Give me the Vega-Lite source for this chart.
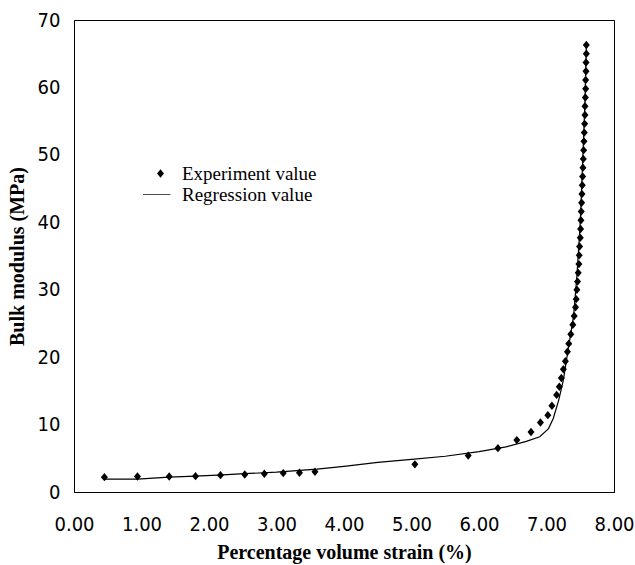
{
  "$schema": "https://vega.github.io/schema/vega-lite/v6.json",
  "width": 540,
  "height": 472,
  "autosize": {"type": "none"},
  "padding": {"left": 74, "top": 20, "right": 21, "bottom": 73},
  "background": "white",
  "config": {
    "view": {"stroke": "black", "strokeWidth": 1},
    "axis": {
      "grid": false,
      "ticks": false,
      "labelFlush": false,
      "labelOverlap": false,
      "domainColor": "black",
      "domainWidth": 1,
      "labelColor": "black",
      "labelFont": "DejaVu Sans Condensed",
      "labelFontSize": 20,
      "titleColor": "black",
      "titleFont": "Liberation Serif",
      "titleFontWeight": "bold",
      "titleFontSize": 20
    }
  },
  "datasets": {
    "experiment": [
      {"strain": 0.45, "modulus": 2.2, "series": "Experiment value"},
      {"strain": 0.94, "modulus": 2.3, "series": "Experiment value"},
      {"strain": 1.41, "modulus": 2.3, "series": "Experiment value"},
      {"strain": 1.80, "modulus": 2.35, "series": "Experiment value"},
      {"strain": 2.17, "modulus": 2.5, "series": "Experiment value"},
      {"strain": 2.53, "modulus": 2.6, "series": "Experiment value"},
      {"strain": 2.82, "modulus": 2.7, "series": "Experiment value"},
      {"strain": 3.10, "modulus": 2.8, "series": "Experiment value"},
      {"strain": 3.34, "modulus": 2.85, "series": "Experiment value"},
      {"strain": 3.57, "modulus": 3.0, "series": "Experiment value"},
      {"strain": 5.05, "modulus": 4.1, "series": "Experiment value"},
      {"strain": 5.84, "modulus": 5.4, "series": "Experiment value"},
      {"strain": 6.28, "modulus": 6.5, "series": "Experiment value"},
      {"strain": 6.56, "modulus": 7.7, "series": "Experiment value"},
      {"strain": 6.77, "modulus": 8.9, "series": "Experiment value"},
      {"strain": 6.91, "modulus": 10.3, "series": "Experiment value"},
      {"strain": 7.02, "modulus": 11.4, "series": "Experiment value"},
      {"strain": 7.08, "modulus": 12.8, "series": "Experiment value"},
      {"strain": 7.15, "modulus": 14.4, "series": "Experiment value"},
      {"strain": 7.19, "modulus": 15.6, "series": "Experiment value"},
      {"strain": 7.22, "modulus": 16.9, "series": "Experiment value"},
      {"strain": 7.25, "modulus": 18.2, "series": "Experiment value"},
      {"strain": 7.28, "modulus": 19.4, "series": "Experiment value"},
      {"strain": 7.31, "modulus": 20.8, "series": "Experiment value"},
      {"strain": 7.33, "modulus": 22.0, "series": "Experiment value"},
      {"strain": 7.36, "modulus": 23.4, "series": "Experiment value"},
      {"strain": 7.39, "modulus": 24.8, "series": "Experiment value"},
      {"strain": 7.41, "modulus": 26.1, "series": "Experiment value"},
      {"strain": 7.43, "modulus": 27.4, "series": "Experiment value"},
      {"strain": 7.44, "modulus": 28.6, "series": "Experiment value"},
      {"strain": 7.45, "modulus": 30.0, "series": "Experiment value"},
      {"strain": 7.46, "modulus": 31.2, "series": "Experiment value"},
      {"strain": 7.47, "modulus": 32.5, "series": "Experiment value"},
      {"strain": 7.48, "modulus": 33.8, "series": "Experiment value"},
      {"strain": 7.485, "modulus": 35.1, "series": "Experiment value"},
      {"strain": 7.49, "modulus": 36.4, "series": "Experiment value"},
      {"strain": 7.50, "modulus": 37.7, "series": "Experiment value"},
      {"strain": 7.505, "modulus": 39.0, "series": "Experiment value"},
      {"strain": 7.51, "modulus": 40.3, "series": "Experiment value"},
      {"strain": 7.515, "modulus": 41.6, "series": "Experiment value"},
      {"strain": 7.52, "modulus": 42.9, "series": "Experiment value"},
      {"strain": 7.525, "modulus": 44.2, "series": "Experiment value"},
      {"strain": 7.53, "modulus": 45.5, "series": "Experiment value"},
      {"strain": 7.535, "modulus": 46.8, "series": "Experiment value"},
      {"strain": 7.54, "modulus": 48.1, "series": "Experiment value"},
      {"strain": 7.545, "modulus": 49.4, "series": "Experiment value"},
      {"strain": 7.55, "modulus": 50.7, "series": "Experiment value"},
      {"strain": 7.555, "modulus": 52.0, "series": "Experiment value"},
      {"strain": 7.56, "modulus": 53.3, "series": "Experiment value"},
      {"strain": 7.565, "modulus": 54.6, "series": "Experiment value"},
      {"strain": 7.57, "modulus": 55.9, "series": "Experiment value"},
      {"strain": 7.57, "modulus": 57.2, "series": "Experiment value"},
      {"strain": 7.575, "modulus": 58.5, "series": "Experiment value"},
      {"strain": 7.58, "modulus": 59.8, "series": "Experiment value"},
      {"strain": 7.58, "modulus": 61.1, "series": "Experiment value"},
      {"strain": 7.585, "modulus": 62.4, "series": "Experiment value"},
      {"strain": 7.585, "modulus": 63.7, "series": "Experiment value"},
      {"strain": 7.59, "modulus": 65.0, "series": "Experiment value"},
      {"strain": 7.59, "modulus": 66.3, "series": "Experiment value"}
    ],
    "regression": [
      {"strain": 0.45, "modulus": 1.9},
      {"strain": 0.94, "modulus": 1.9},
      {"strain": 1.41, "modulus": 2.2},
      {"strain": 1.80, "modulus": 2.35},
      {"strain": 2.2, "modulus": 2.55},
      {"strain": 2.6, "modulus": 2.75},
      {"strain": 3.0, "modulus": 2.95},
      {"strain": 3.6, "modulus": 3.4},
      {"strain": 4.0, "modulus": 3.8},
      {"strain": 4.5, "modulus": 4.4},
      {"strain": 5.0, "modulus": 4.85},
      {"strain": 5.5, "modulus": 5.3},
      {"strain": 6.0, "modulus": 6.0},
      {"strain": 6.4, "modulus": 6.7},
      {"strain": 6.7, "modulus": 7.5},
      {"strain": 6.9, "modulus": 8.2},
      {"strain": 7.03, "modulus": 9.4},
      {"strain": 7.10, "modulus": 10.9},
      {"strain": 7.18, "modulus": 13.6},
      {"strain": 7.25, "modulus": 16.6},
      {"strain": 7.32, "modulus": 21.1},
      {"strain": 7.40, "modulus": 26.0},
      {"strain": 7.45, "modulus": 32.0},
      {"strain": 7.50, "modulus": 40.0},
      {"strain": 7.54, "modulus": 50.0},
      {"strain": 7.57, "modulus": 58.0},
      {"strain": 7.59, "modulus": 66.0}
    ]
  },
  "layer": [
    {
      "data": {"name": "regression"},
      "mark": {"type": "line", "color": "black", "strokeWidth": 1.2},
      "encoding": {
        "x": {
          "field": "strain", "type": "quantitative",
          "scale": {"domain": [0, 8], "nice": false},
          "axis": {"values": [0, 1, 2, 3, 4, 5, 6, 7, 8], "format": ".2f", "labelPadding": 22, "title": "Percentage volume strain (%)", "titlePadding": 8}
        },
        "y": {
          "field": "modulus", "type": "quantitative",
          "scale": {"domain": [0, 70], "nice": false},
          "axis": {"values": [0, 10, 20, 30, 40, 50, 60, 70], "format": "d", "labelPadding": 14, "title": "Bulk modulus (MPa)", "titlePadding": 10}
        }
      }
    },
    {
      "data": {"name": "experiment"},
      "mark": {"type": "point", "filled": true, "color": "black", "opacity": 1, "size": 49},
      "encoding": {
        "x": {"field": "strain", "type": "quantitative"},
        "y": {"field": "modulus", "type": "quantitative"},
        "shape": {
          "field": "series", "type": "nominal",
          "scale": {
            "domain": ["Experiment value", "Regression value"],
            "range": ["M0,-1.2L1,0L0,1.2L-1,0Z", "M-5,-0.1L2.85,-0.1L2.85,0.1L-5,0.1Z"]
          },
          "legend": {
            "title": null,
            "orient": "none",
            "legendX": 77,
            "legendY": 144,
            "padding": 0,
            "symbolSize": 49,
            "symbolFillColor": "black",
            "symbolStrokeColor": "black",
            "symbolStrokeWidth": 0.5,
            "labelFont": "Liberation Serif",
            "labelFontSize": 19,
            "labelColor": "black",
            "labelOffset": 12,
            "rowPadding": 1,
            "encode": {
              "symbols": {
                "update": {
                  "stroke": {"value": "black"},
                  "strokeWidth": {"value": 0.5},
                  "strokeOpacity": {"value": 1},
                  "fill": {"value": "black"},
                  "fillOpacity": {"value": 1},
                  "opacity": {"value": 1}
                }
              }
            }
          }
        }
      }
    }
  ]
}
